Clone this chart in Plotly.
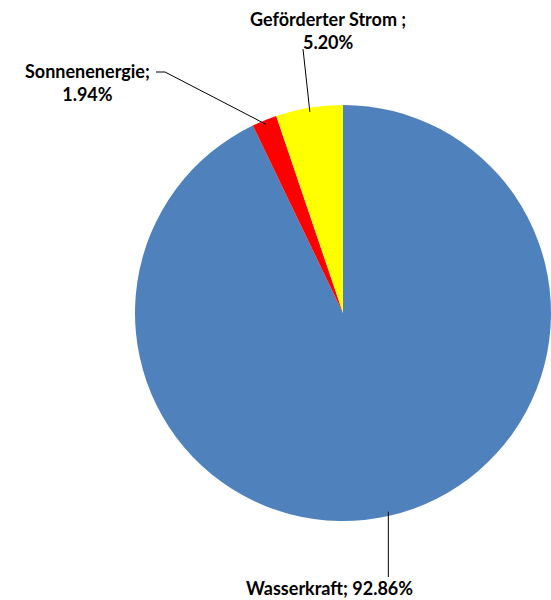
import math
import plotly.graph_objects as go

categories = ["Wasserkraft", "Sonnenenergie", "Geförderter Strom "]
values = [92.86, 1.94, 5.20]
colors = ["#4F81BD", "#FF0000", "#FFFF00"]

W, H = 551, 600
FONT = dict(family="Lato, 'Open Sans', sans-serif", size=18, color="#000000")

# pie geometry in pixels
cx, cy = 343, 313
dom_y = [(H - 523) / H, (H - 103) / H]
half = (W - cx) / W
dom_x = [cx / W - half, 1.0]
r = min((dom_x[1] - dom_x[0]) * W, (dom_y[1] - dom_y[0]) * H) / 2


def px(x, y):
    return x / W, 1 - y / H


fig = go.Figure(go.Pie(
    labels=categories, values=values, sort=False, direction="clockwise",
    rotation=0, marker=dict(colors=colors, line=dict(width=0)),
    textinfo="none", hoverinfo="label+percent", domain=dict(x=dom_x, y=dom_y),
    showlegend=False,
))

# label layout (end of leader line, label position)
label_layout = {
    "Wasserkraft": dict(ends=[(None, 577)], tx=329, ty=588),
    "Sonnenenergie": dict(ends=[(165, 72), (156, 72)], tx=87, ty=82),
    "Geförderter Strom ": dict(ends=[(303, 49)], tx=328, ty=30),
}

shapes = []
annotations = []
total = sum(values)
cum = 0.0
for cat, v in zip(categories, values):
    mid = (cum + v / 2) / total * 2 * math.pi
    cum += v
    sx = cx + 0.98 * r * math.sin(mid)
    sy = cy - 0.98 * r * math.cos(mid)
    lay = label_layout[cat]
    prev = (sx, sy)
    for ex, ey in lay["ends"]:
        if ex is None:
            ex = sx
        x0, y0 = px(*prev)
        x1, y1 = px(ex, ey)
        shapes.append(dict(type="line", xref="paper", yref="paper", x0=x0, y0=y0, x1=x1, y1=y1,
                           line=dict(color="#000000", width=1)))
        prev = (ex, ey)
    pct = f"{v:.2f}%"
    if cat == "Wasserkraft":
        text = f"<b>{cat}; {pct}</b>"
    else:
        text = f"<b>{cat};<br>{pct}</b>"
    ax, ay = px(lay["tx"], lay["ty"])
    annotations.append(dict(x=ax, y=ay, xref="paper", yref="paper", text=text, showarrow=False,
                            xanchor="center", yanchor="middle", align="center", font=FONT))

fig.update_layout(
    width=W, height=H, margin=dict(l=0, r=0, t=0, b=0),
    paper_bgcolor="white", plot_bgcolor="white",
    shapes=shapes, annotations=annotations,
)

fig.write_html("out.html", config={"displayModeBar": False},
               post_script="document.body.style.margin='0';document.body.style.overflow='hidden';")
